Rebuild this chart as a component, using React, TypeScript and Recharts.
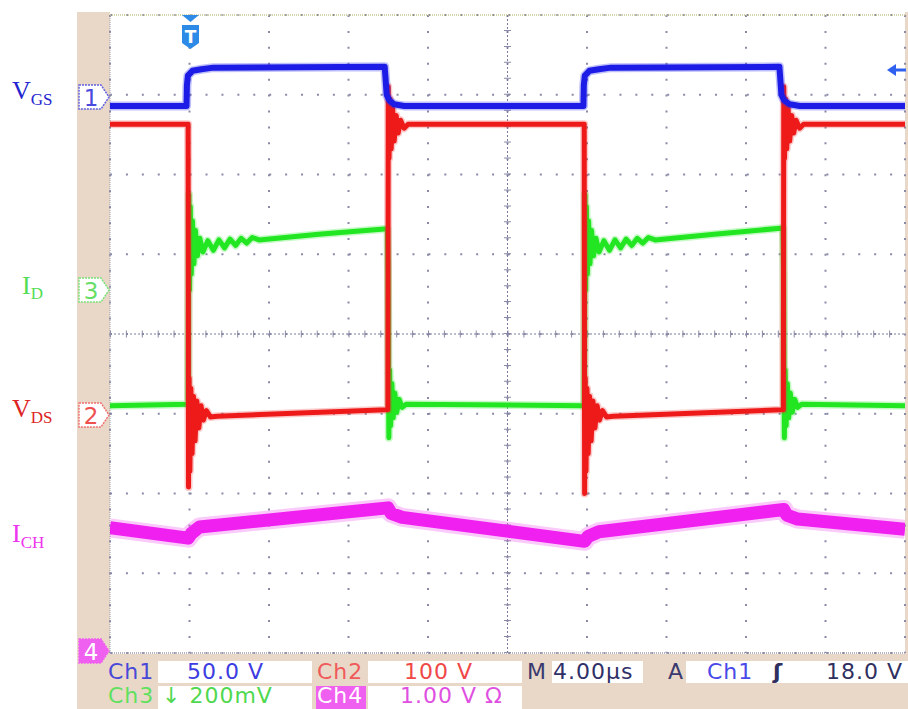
import React from 'react';
import { LineChart, Line, XAxis, YAxis, CartesianGrid, ReferenceLine } from 'recharts';

// scope capture: time in µs (4 µs/div), level in divisions from screen centre
const TIME_TICKS = [0, 4, 8, 12, 16, 20, 24, 28, 32, 36, 40];
const DIV_TICKS = [-4, -3, -2, -1, 0, 1, 2, 3, 4];

const vgs: [number, number][] = [
  [0, 2.86], [3.85, 2.86], [3.87, 3.12], [3.92, 3.24], [4.15, 3.3], [4.6, 3.32], [5.2, 3.34],
  [13.82, 3.35], [13.86, 3.22], [13.92, 3.0], [14.05, 2.93], [14.3, 2.88], [14.8, 2.86],
  [23.82, 2.86], [23.84, 3.12], [23.89, 3.24], [24.12, 3.3], [24.6, 3.32], [25.2, 3.34],
  [33.68, 3.35], [33.72, 3.22], [33.78, 3.0], [33.92, 2.93], [34.2, 2.88], [34.7, 2.86], [40, 2.86],
];

const vds: [number, number][] = [
  [0, 2.63], [3.93, 2.63], [3.95, -1.92], [3.98, -0.55], [4.02, -1.72], [4.07, -0.68], [4.13, -1.5],
  [4.2, -0.78], [4.28, -1.34], [4.37, -0.84], [4.47, -1.18], [4.58, -0.9], [4.7, -1.08], [4.85, -0.96],
  [5.05, -1.04], [5.4, -1.03], [13.9, -0.95], [13.98, -0.95], [14.0, 3.1], [14.04, 2.2], [14.09, 2.95],
  [14.15, 2.32], [14.22, 2.84], [14.3, 2.42], [14.4, 2.74], [14.5, 2.52], [14.62, 2.68], [14.8, 2.58],
  [15.0, 2.63],
  [23.86, 2.63], [23.88, -2.0], [23.91, -0.55], [23.95, -1.72], [24.0, -0.68], [24.06, -1.5],
  [24.13, -0.78], [24.21, -1.34], [24.3, -0.84], [24.4, -1.18], [24.51, -0.9], [24.63, -1.08],
  [24.78, -0.96], [24.98, -1.04], [25.33, -1.03], [33.8, -0.95], [33.88, -0.95], [33.9, 3.1],
  [33.94, 2.2], [33.99, 2.95], [34.05, 2.32], [34.12, 2.84], [34.2, 2.42], [34.3, 2.74], [34.4, 2.52],
  [34.52, 2.68], [34.7, 2.58], [34.9, 2.63], [40, 2.63],
];

const id: [number, number][] = [
  [0, -0.9], [3.93, -0.88], [3.95, 0.6], [3.97, 1.75], [4.0, 0.55], [4.04, 1.6], [4.09, 0.75],
  [4.15, 1.42], [4.22, 0.88], [4.3, 1.3], [4.4, 0.98], [4.52, 1.2], [4.68, 1.03], [4.92, 1.17],
  [5.2, 1.05], [5.48, 1.18], [5.76, 1.08], [6.04, 1.19], [6.32, 1.11], [6.6, 1.2], [6.88, 1.14],
  [7.16, 1.21], [7.5, 1.18], [10.5, 1.25], [13.96, 1.32], [13.99, 0.75], [14.01, -0.4], [14.03, -1.3],
  [14.07, -0.45], [14.12, -1.15], [14.18, -0.62], [14.25, -1.05], [14.33, -0.74], [14.43, -0.98],
  [14.55, -0.82], [14.7, -0.92], [14.9, -0.88],
  [23.86, -0.9], [23.88, 0.6], [23.9, 1.75], [23.93, 0.55], [23.97, 1.6], [24.02, 0.75], [24.08, 1.42],
  [24.15, 0.88], [24.23, 1.3], [24.33, 0.98], [24.45, 1.2], [24.61, 1.03], [24.85, 1.17], [25.13, 1.05],
  [25.41, 1.18], [25.69, 1.08], [25.97, 1.19], [26.25, 1.11], [26.53, 1.2], [26.81, 1.14], [27.09, 1.21],
  [27.43, 1.18], [30.4, 1.25], [33.86, 1.33], [33.89, 0.75], [33.91, -0.4], [33.93, -1.3], [33.97, -0.45],
  [34.02, -1.15], [34.08, -0.62], [34.15, -1.05], [34.23, -0.74], [34.33, -0.98], [34.45, -0.82],
  [34.6, -0.92], [34.8, -0.88], [40, -0.9],
];

const ich: [number, number][] = [
  [0, -2.43], [3.93, -2.56], [4.1, -2.5], [4.5, -2.42], [13.98, -2.18], [14.15, -2.25], [14.7, -2.3],
  [23.88, -2.6], [24.05, -2.54], [24.6, -2.48], [33.9, -2.2], [34.05, -2.27], [34.6, -2.32], [40, -2.45],
];

const toPts = (a: [number, number][]) => a.map(([t, v]) => ({ t, v }));

const TAN = '#e9d8c7';
const MONO = '"DejaVu Sans", Verdana, sans-serif';
const SERIF = '"Liberation Serif", "Times New Roman", serif';

function Marker({ y, n, stroke, fill, text }: { y: number; n: string; stroke: string; fill: string; text: string }) {
  return (
    <g>
      <path
        d={`M79,${y - 12} H101 L109,${y} L101,${y + 12} H79 Z`}
        fill={fill}
        stroke={stroke}
        strokeWidth={1.5}
        strokeDasharray="2 1"
      />
      <text x={91} y={y + 9} textAnchor="middle" fontFamily={MONO} fontSize={23} fill={text}>
        {n}
      </text>
    </g>
  );
}

export default function App() {
  const line = (data: [number, number][], color: string, w: number, key: string, opacity = 1) => (
    <Line
      key={key}
      data={toPts(data)}
      dataKey="v"
      type="linear"
      stroke={color}
      strokeWidth={w}
      strokeOpacity={opacity}
      strokeLinejoin="round"
      dot={false}
      activeDot={false}
      isAnimationActive={false}
    />
  );

  return (
    <div style={{ position: 'absolute', left: 0, top: 0, width: 908, height: 709, background: '#fff' }}>
      <svg width={908} height={709} style={{ position: 'absolute', left: 0, top: 0 }}>
        <rect x={77} y={12} width={33} height={697} fill={TAN} />
        <rect x={77} y={654} width={831} height={55} fill={TAN} />
        <rect x={905} y={12} width={3} height={697} fill={TAN} />
      </svg>

      <div style={{ position: 'absolute', left: 0, top: 0 }}>
        <LineChart width={908} height={709} margin={{ top: 15, right: 3, bottom: 56, left: 110 }}>
          <XAxis type="number" dataKey="t" domain={[0, 40]} ticks={TIME_TICKS} hide allowDataOverflow />
          <YAxis type="number" domain={[-4, 4]} ticks={DIV_TICKS} hide allowDataOverflow />
          <CartesianGrid stroke="#8a8aa6" strokeWidth={2} strokeDasharray="2 13.92" />
          <ReferenceLine y={0} stroke="#7a7aa0" strokeDasharray="2 2" />
          <ReferenceLine y={0} stroke="#8a8aa6" strokeWidth={7} strokeDasharray="1 14.9" />
          <ReferenceLine x={20} stroke="#7a7aa0" strokeDasharray="2 2" />
          <ReferenceLine x={20} stroke="#8a8aa6" strokeWidth={7} strokeDasharray="1 14.95" />
          <ReferenceLine x={0} stroke="#9a9aae" strokeDasharray="1 1" />
          <ReferenceLine y={-4} stroke="#9a9aae" strokeWidth={1.5} strokeDasharray="1 1" />
          <ReferenceLine y={4} stroke="#c8c890" strokeWidth={1.5} strokeDasharray="1 1" />
          {line(ich, '#f050f0', 19, 'ich-halo', 0.3)}
          {line(ich, '#f020f0', 13, 'ich')}
          {line(id, '#44ea44', 8, 'id-halo', 0.3)}
          {line(id, '#22e622', 5, 'id')}
          {line(vds, '#f03030', 8, 'vds-halo', 0.25)}
          {line(vds, '#ee1a1a', 5, 'vds')}
          {line(vgs, '#2a2af0', 9, 'vgs-halo', 0.3)}
          {line(vgs, '#1c1ce6', 6, 'vgs')}
        </LineChart>
      </div>

      <svg width={908} height={709} style={{ position: 'absolute', left: 0, top: 0, pointerEvents: 'none' }}>
        {/* channel names */}
        <text x={12} y={99} fontFamily={SERIF} fontSize={26} fill="#2424d0">
          V<tspan fontSize={17} dy={6}>GS</tspan>
        </text>
        <text x={22} y={294} fontFamily={SERIF} fontSize={26} fill="#55dd55">
          I<tspan fontSize={17} dy={5}>D</tspan>
        </text>
        <text x={12} y={417} fontFamily={SERIF} fontSize={26} fill="#dd2424">
          V<tspan fontSize={17} dy={6}>DS</tspan>
        </text>
        <text x={12} y={542} fontFamily={SERIF} fontSize={26} fill="#ee33ee">
          I<tspan fontSize={17} dy={6}>CH</tspan>
        </text>

        {/* ground markers */}
        <Marker y={97} n="1" stroke="#6060e0" fill="#fff" text="#4a4ae0" />
        <Marker y={290} n="3" stroke="#78e078" fill="#fff" text="#66dd66" />
        <Marker y={415} n="2" stroke="#f07070" fill="#fff" text="#ee5050" />
        <Marker y={651} n="4" stroke="#f060f0" fill="#f060f0" text="#fff" />

        {/* trigger position and level */}
        <path d="M182,15 H199 L190.5,22 Z" fill="#2d8ae6" />
        <path d="M182,25 H199 V43 L190.5,49 L182,43 Z" fill="#2d8ae6" />
        <text x={190.5} y={43} textAnchor="middle" fontFamily={MONO} fontWeight="bold" fontSize={17} fill="#fff">
          T
        </text>
        <path d="M887,70 L896,64 L896,76 Z" fill="#3060f0" />
        <line x1={895} y1={70} x2={906} y2={70} stroke="#3060f0" strokeWidth={3} />

        {/* readout panel */}
        <rect x={158} y={661} width={154} height={22} fill="#fff" />
        <rect x={368} y={661} width={154} height={22} fill="#fff" />
        <rect x={552} y={661} width={91} height={22} fill="#fff" />
        <rect x={686} y={661} width={222} height={22} fill="#fff" />
        <rect x={158} y={686} width={154} height={23} fill="#fff" />
        <rect x={368} y={686} width={154} height={23} fill="#fff" />
        <rect x={316} y={686} width={50} height={23} fill="#f060f0" />
        <g fontFamily={MONO} fontSize={22} letterSpacing={1}>
          <text x={108} y={679} fill="#4848d8">Ch1</text>
          <text x={187} y={679} fill="#3c3ce0">50.0 V</text>
          <text x={317} y={679} fill="#f05a5a">Ch2</text>
          <text x={404} y={679} fill="#f04848">100 V</text>
          <text x={527} y={679} fill="#3a3a70">M</text>
          <text x={553} y={679} fill="#303068">4.00µs</text>
          <text x={668} y={679} fill="#3a3a70">A</text>
          <text x={707} y={679} fill="#4a4ae8">Ch1</text>
          <text x={773} y={679} fill="#303060" fontWeight="bold">ʃ</text>
          <text x={826} y={679} fill="#303060">18.0 V</text>
          <text x={108} y={703} fill="#60e060">Ch3</text>
          <text x={162} y={703} fill="#50d850">↓ 200mV</text>
          <text x={317} y={703} fill="#fff">Ch4</text>
          <text x={400} y={703} fill="#e050e0">1.00 V Ω</text>
        </g>
      </svg>
    </div>
  );
}
